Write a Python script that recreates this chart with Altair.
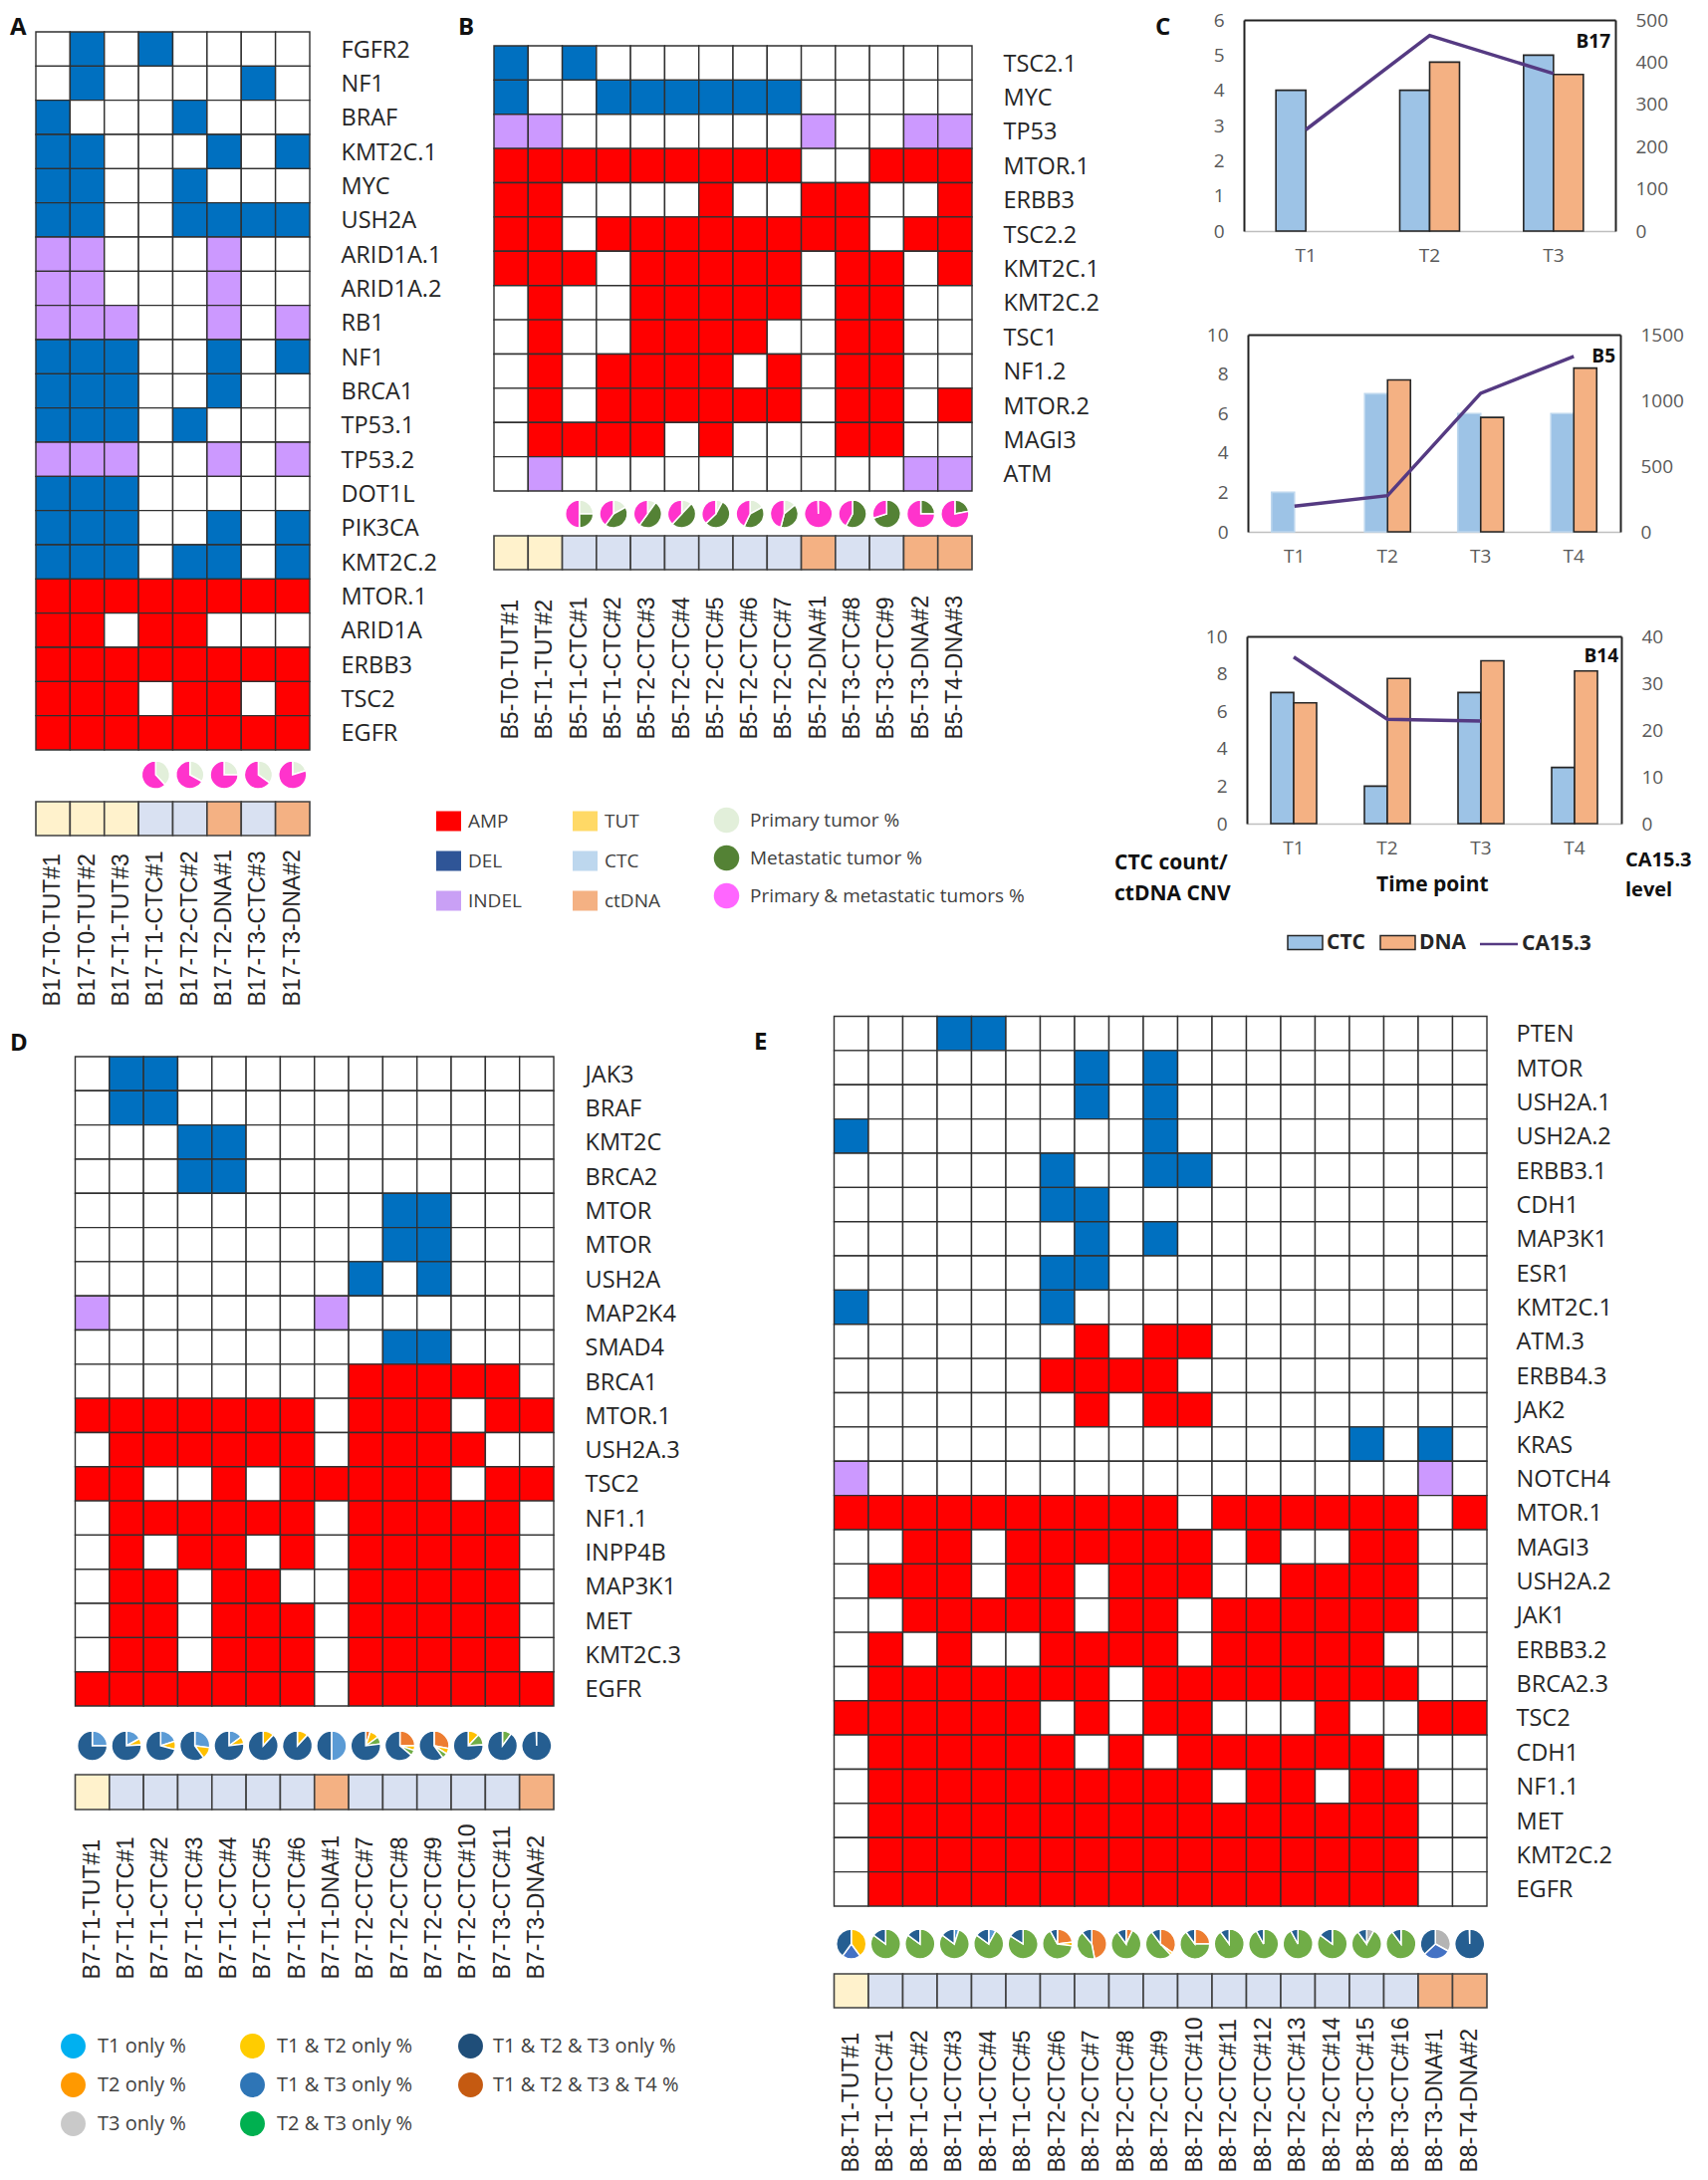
import altair as alt
import pandas as pd

W, H = 1699, 2173
M = 8  # page margin: reference pixel -> plot pixel

CELL_DOMAIN = ["none", "AMP", "DEL", "INDEL"]
CELL_RANGE = ["#FFFFFF", "#FF0000", "#0070C0", "#CC99FF"]
CODE = {".": "none", "A": "AMP", "D": "DEL", "I": "INDEL"}
TYPE_DOMAIN = ["TUT", "CTC", "DNA"]
TYPE_RANGE = ["#FFF2CC", "#D9E1F2", "#F4B183"]
SLICES = ["pale", "blue2", "orange", "gold", "grey", "blue3", "green", "dkgreen", "pink", "navy"]
SLICE_COLORS = ["#E2EFDA", "#5B9BD5", "#ED7D31", "#FFC000", "#B4B4B4", "#4472C4", "#70AD47", "#548235", "#FF33CC", "#255E91"]
BODY = "Open Sans"
NARROW = "Liberation Sans"

A_GENES = ["FGFR2", "NF1", "BRAF", "KMT2C.1", "MYC", "USH2A", "ARID1A.1", "ARID1A.2", "RB1", "NF1", "BRCA1", "TP53.1",
           "TP53.2", "DOT1L", "PIK3CA", "KMT2C.2", "MTOR.1", "ARID1A", "ERBB3", "TSC2", "EGFR"]
A_SAMPLES = ["B17-T0-TUT#1", "B17-T0-TUT#2", "B17-T1-TUT#3", "B17-T1-CTC#1", "B17-T2-CTC#2", "B17-T2-DNA#1", "B17-T3-CTC#3", "B17-T3-DNA#2"]
A_CELLS = [".D.D....", ".D....D.", "D...D...", "DD...D.D", "DD..D...", "DD..DDDD", "II...I..", "II...I..", "III..I.I",
           "DDD..D.D", "DDD..D..", "DDD.D...", "III..I.I", "DDD.....", "DDD..D.D", "DDD.DD.D", "AAAAAAAA", "AA.AA...",
           "AAAAAAAA", "AAA.AA.A", "AAAAAAAA"]
A_PIE_SAMPLES = A_SAMPLES[3:]
A_PIES = {"pale": [38, 33, 25, 35, 20], "pink": [62, 67, 75, 65, 80]}

B_GENES = ["TSC2.1", "MYC", "TP53", "MTOR.1", "ERBB3", "TSC2.2", "KMT2C.1", "KMT2C.2", "TSC1", "NF1.2", "MTOR.2", "MAGI3", "ATM"]
B_SAMPLES = ["B5-T0-TUT#1", "B5-T1-TUT#2", "B5-T1-CTC#1", "B5-T1-CTC#2", "B5-T2-CTC#3", "B5-T2-CTC#4", "B5-T2-CTC#5",
             "B5-T2-CTC#6", "B5-T2-CTC#7", "B5-T2-DNA#1", "B5-T3-CTC#8", "B5-T3-CTC#9", "B5-T3-DNA#2", "B5-T4-DNA#3"]
B_CELLS = ["D.D...........", "D..DDDDDD.....", "II.......I..II", "AAAAAAAAA..AAA", "AA....A..AA..A", "AA.AAAAAAAA.AA",
           "AAA.AAAAA.AA.A", ".A..AAAAA.AA..", ".A..AAAA..AA..", ".A.AAAA.A.AA..", ".A.AAAAAA.AA.A", ".AAAA.A...AA..",
           ".I..........II"]
B_PIE_SAMPLES = B_SAMPLES[2:]
B_PIES = {"pale": [25, 17, 10, 12, 8, 17, 14, 0, 0, 0, 0, 0],
          "dkgreen": [25, 43, 50, 50, 55, 40, 40, 0, 58, 70, 25, 22],
          "pink": [50, 40, 40, 38, 37, 43, 46, 99.5, 42, 30, 75, 78]}

D_GENES = ["JAK3", "BRAF", "KMT2C", "BRCA2", "MTOR", "MTOR", "USH2A", "MAP2K4", "SMAD4", "BRCA1", "MTOR.1", "USH2A.3", "TSC2",
           "NF1.1", "INPP4B", "MAP3K1", "MET", "KMT2C.3", "EGFR"]
D_SAMPLES = ["B7-T1-TUT#1", "B7-T1-CTC#1", "B7-T1-CTC#2", "B7-T1-CTC#3", "B7-T1-CTC#4", "B7-T1-CTC#5", "B7-T1-CTC#6", "B7-T1-DNA#1",
             "B7-T2-CTC#7", "B7-T2-CTC#8", "B7-T2-CTC#9", "B7-T2-CTC#10", "B7-T3-CTC#11", "B7-T3-DNA#2"]
D_CELLS = [".DD...........", ".DD...........", "...DD.........", "...DD.........", ".........DD...", ".........DD...",
           "........D.D...", "I......I......", ".........DD...", "........AAAAA.", "AAAAAAA.AAA.AA", ".AAAAAA.AAAA..",
           "AA..A.AAAAA.AA", ".AAAAAA.AAAAA.", ".A.AA.A.AAAAA.", ".AA.AA..AAAAA.", ".AA.AAA.AAAAA.", ".AA.AAA.AAAAA.",
           "AAAAAAA.AAAAAA"]
D_PIE_SAMPLES = D_SAMPLES
D_PIES = {"blue2": [25, 17, 20, 27, 15, 0, 0, 50, 0, 0, 0, 0, 0, 0],
          "orange": [0, 0, 0, 0, 0, 0, 0, 0, 5, 25, 28, 0, 0, 0],
          "gold": [0, 7, 9, 13, 8, 12, 12, 0, 10, 5, 6, 12, 0, 0],
          "green": [0, 0, 0, 0, 0, 0, 0, 0, 8, 6, 6, 12, 10, 0],
          "navy": [75, 76, 71, 60, 77, 88, 88, 50, 77, 64, 60, 76, 90, 99.5]}

E_GENES = ["PTEN", "MTOR", "USH2A.1", "USH2A.2", "ERBB3.1", "CDH1", "MAP3K1", "ESR1", "KMT2C.1", "ATM.3", "ERBB4.3", "JAK2", "KRAS",
           "NOTCH4", "MTOR.1", "MAGI3", "USH2A.2", "JAK1", "ERBB3.2", "BRCA2.3", "TSC2", "CDH1", "NF1.1", "MET", "KMT2C.2", "EGFR"]
E_SAMPLES = ["B8-T1-TUT#1", "B8-T1-CTC#1", "B8-T1-CTC#2", "B8-T1-CTC#3", "B8-T1-CTC#4", "B8-T1-CTC#5", "B8-T2-CTC#6", "B8-T2-CTC#7",
             "B8-T2-CTC#8", "B8-T2-CTC#9", "B8-T2-CTC#10", "B8-T2-CTC#11", "B8-T2-CTC#12", "B8-T2-CTC#13", "B8-T2-CTC#14",
             "B8-T3-CTC#15", "B8-T3-CTC#16", "B8-T3-DNA#1", "B8-T4-DNA#2"]
E_CELLS = ["...DD..............", ".......D.D.........", ".......D.D.........", "D........D.........", "......D..DD........",
           "......DD...........", ".......D.D.........", "......DD...........", "D.....D............", ".......A.AA........",
           "......AAAA.........", ".......A.AA........", "...............D.D.", "I................I.",
           "AAAAAAAAAA.AAAAAA.A", "..AA.AAAAAA.A..AA..", ".AAA.AA.AAA..AAAA..", "..AAAAA.AA.AAAAAA..",
           ".A.A..AAAA.AAAAA...", ".AAAAAAA.AAAAAAAA..", "AAAAAA.A.AA...A..AA", ".AAAAAA.A.AAAAAA...",
           ".AAAAAAAAAA.AA.AA..", ".AAAAAAAAAAAAAAAA..", ".AAAAAAAAAAAAAAAA..", ".AAAAAAAAAAAAAAAA.."]
E_PIE_SAMPLES = E_SAMPLES
E_PIES = {"blue2": [0, 0, 0, 5, 8, 0, 0, 0, 0, 0, 0, 0, 0, 0, 0, 0, 0, 0, 0],
          "orange": [0, 0, 0, 0, 0, 0, 23, 47, 7, 35, 25, 0, 0, 0, 0, 0, 0, 0, 0],
          "gold": [40, 0, 0, 0, 0, 0, 4, 0, 0, 3, 0, 0, 0, 0, 0, 0, 0, 0, 0],
          "grey": [0, 0, 0, 0, 0, 0, 0, 0, 0, 0, 0, 0, 0, 0, 0, 8, 0, 33, 0],
          "blue3": [20, 0, 0, 0, 0, 0, 0, 0, 0, 0, 0, 0, 0, 0, 0, 0, 0, 30, 0],
          "green": [0, 85, 85, 80, 77, 84, 65, 42, 83, 52, 65, 90, 92, 92, 85, 82, 90, 0, 0],
          "navy": [40, 15, 15, 15, 15, 16, 8, 11, 10, 10, 10, 10, 8, 8, 15, 10, 10, 37, 99.5]}

C1_T = ["T1", "T2", "T3"]
C1_CTC = [4, 4, 5]
C1_DNA = [None, 4.8, 4.45]
C1_CA = [240, 463, 373]
C2_T = ["T1", "T2", "T3", "T4"]
C2_CTC = [2, 7, 6, 6]
C2_DNA = [None, 7.7, 5.8, 8.3]
C2_CA = [195, 275, 1054, 1334]
C3_T = ["T1", "T2", "T3", "T4"]
C3_CTC = [7, 2, 7, 3]
C3_DNA = [6.45, 7.75, 8.7, 8.15]
C3_CA = [35.6, 22.3, 21.9, None]

layers = []


def unique_keys(names):
    seen = {}
    keys = []
    for n in names:
        seen[n] = seen.get(n, 0) + 1
        keys.append(n + " " * (seen[n] - 1))
    return keys


def heat_panel(genes, samples, cells, pie_samples, pies, x0, x1, y0, y1, pie_y, sy0, sy1, lab_x, sample_bottom, radius):
    keys = unique_keys(genes)
    x_range = [x0 - M, x1 - M]
    heat = pd.DataFrame([
        {"gene": k, "sample": s, "call": CODE[c]}
        for k, row in zip(keys, cells) for s, c in zip(samples, row)
    ])
    layers.append(alt.Chart(heat).mark_rect(stroke="#303030", strokeWidth=1.4).encode(
        x=alt.X("sample:N", scale=alt.Scale(domain=samples, range=x_range, padding=0), axis=None),
        y=alt.Y("gene:N", scale=alt.Scale(domain=keys, range=[y0 - M, y1 - M], padding=0),
                axis=alt.Axis(orient="right", offset=lab_x - M - W, domain=False, ticks=False, title=None,
                              labelPadding=0, labelOffset=1.5, labelFont=BODY, labelFontSize=23.5, labelColor="#262626",
                              labelAlign="left")),
        color=alt.Color("call:N", scale=alt.Scale(domain=CELL_DOMAIN, range=CELL_RANGE), legend=None),
    ))
    rows = []
    for i, s in enumerate(pie_samples):
        start = 0
        for name in SLICES:
            if name in pies and pies[name][i] > 0:
                v = pies[name][i]
                rows.append({"sample": s, "slice": name, "start": start, "end": start + v, "row": "pie"})
                start += v
    layers.append(alt.Chart(pd.DataFrame(rows)).mark_arc(outerRadius=radius, stroke="white", strokeWidth=1.5).encode(
        x=alt.X("sample:N", scale=alt.Scale(type="point", domain=samples, range=x_range, padding=0.5), axis=None),
        y=alt.Y("row:N", scale=alt.Scale(type="point", domain=["pie"], range=[pie_y - M - 1, pie_y - M + 1]), axis=None),
        theta=alt.Theta("start:Q", scale=alt.Scale(domain=[0, 100], range=[0, 6.2832])),
        theta2="end:Q",
        color=alt.Color("slice:N", scale=alt.Scale(domain=SLICES, range=SLICE_COLORS), legend=None),
    ))
    strip = pd.DataFrame({"sample": samples, "kind": [t for s in samples for t in TYPE_DOMAIN if t in s], "row": "type"})
    layers.append(alt.Chart(strip).mark_rect(stroke="#404040", strokeWidth=1.6).encode(
        x=alt.X("sample:N", scale=alt.Scale(domain=samples, range=x_range, padding=0),
                axis=alt.Axis(orient="bottom", offset=sample_bottom - M - H, domain=False, ticks=False, title=None,
                              labelAngle=270, labelAlign="left", labelBaseline="middle", labelPadding=0,
                              labelFont=NARROW, labelFontSize=23, labelColor="#262626", labelOverlap=False, labelLimit=300)),
        y=alt.Y("row:N", scale=alt.Scale(domain=["type"], range=[sy0 - M, sy1 - M], padding=0), axis=None),
        color=alt.Color("kind:N", scale=alt.Scale(domain=TYPE_DOMAIN, range=TYPE_RANGE), legend=None),
    ))


def combo_panel(t, ctc, dna, ca, x0, x1, y0, y1, left_max, left_step, right_max, right_step, bar_px, ctc_stroke):
    long = pd.DataFrame(
        [{"t": a, "series": "CTC", "v": v} for a, v in zip(t, ctc) if v is not None] +
        [{"t": a, "series": "DNA", "v": v} for a, v in zip(t, dna) if v is not None]
    )
    x_range = [x0 - M, x1 - M]
    band = (x1 - x0) / len(t)
    pad = 1 - 2 * bar_px / band
    x_scale = alt.Scale(domain=t, range=x_range, paddingInner=pad, paddingOuter=pad / 2)
    tick_font = dict(labelFont=BODY, labelFontSize=19, labelColor="#595959", title=None, ticks=False)
    layers.append(alt.Chart(long).mark_bar(strokeWidth=1.6).encode(
        x=alt.X("t:N", scale=x_scale,
                axis=alt.Axis(orient="bottom", offset=y1 - M - H, domainColor="#BFBFBF", domainWidth=1.5, labelAngle=0,
                              labelPadding=15, **tick_font)),
        xOffset=alt.XOffset("series:N", scale=alt.Scale(domain=["CTC", "DNA"], padding=0)),
        y=alt.Y("v:Q", scale=alt.Scale(domain=[0, left_max], range=[y1 - M, y0 - M], nice=False),
                axis=alt.Axis(orient="left", offset=-(x0 - M), grid=False, domainColor="#222222", domainWidth=2, format="d",
                              values=list(range(0, left_max + 1, left_step)), labelPadding=20, **tick_font)),
        color=alt.Color("series:N", scale=alt.Scale(domain=["CTC", "DNA"], range=["#9DC3E6", "#F4B183"]), legend=None),
        stroke=alt.Stroke("series:N", scale=alt.Scale(domain=["CTC", "DNA"], range=[ctc_stroke, "#262626"]), legend=None),
    ))
    line = pd.DataFrame([{"t": a, "ca": v} for a, v in zip(t, ca) if v is not None])
    layers.append(alt.Chart(line).mark_line(color="#553A82", strokeWidth=3.5).encode(
        x=alt.X("t:N", scale=x_scale,
                axis=alt.Axis(orient="top", offset=-(y0 - M), domainColor="#222222", domainWidth=2, labels=False,
                              ticks=False, title=None)),
        y=alt.Y("ca:Q", scale=alt.Scale(domain=[0, right_max], range=[y1 - M, y0 - M], nice=False),
                axis=alt.Axis(orient="right", offset=x1 - M - W, grid=False, domainColor="#222222", domainWidth=2, format="d",
                              values=list(range(0, right_max + 1, right_step)), labelPadding=20, **tick_font)),
    ))


def legend(labels, colors, x, y, symbol, size, rowpad, lab_off, font_size, bold=False, sym_stroke=None):
    opts = dict(orient="none", legendX=x - M, legendY=y - M, title=None, symbolType=symbol, symbolSize=size,
                symbolOpacity=1, rowPadding=rowpad, labelOffset=lab_off, labelFont=BODY, labelFontSize=font_size,
                labelColor="#262626" if bold else "#404040", labelFontWeight="bold" if bold else "normal", padding=0,
                labelLimit=500)
    if sym_stroke:
        opts.update(symbolStrokeColor=sym_stroke, symbolStrokeWidth=1.5)
    df = pd.DataFrame({"label": labels})
    layers.append(alt.Chart(df).mark_point(filled=True, opacity=0, size=1).encode(
        x=alt.value(0), y=alt.value(0),
        color=alt.Color("label:N", scale=alt.Scale(domain=labels, range=colors), legend=alt.Legend(**opts)),
    ))


def text(s, x, y, size=21, bold=True, align="left"):
    layers.append(alt.Chart(pd.DataFrame({"t": [s]})).mark_text(
        align=align, baseline="middle", font=BODY, fontSize=size, fontWeight="bold" if bold else "normal", color="#111111"
    ).encode(text="t:N", x=alt.value(x - M), y=alt.value(y - M)))


heat_panel(A_GENES, A_SAMPLES, A_CELLS, A_PIE_SAMPLES, A_PIES, 36, 311, 32, 753, 778, 805, 839, 342, 1010, 14)
heat_panel(B_GENES, B_SAMPLES, B_CELLS, B_PIE_SAMPLES, B_PIES, 496, 976, 46, 493, 516, 538, 572, 1007, 742, 14)
heat_panel(D_GENES, D_SAMPLES, D_CELLS, D_PIE_SAMPLES, D_PIES, 75.5, 556, 1061, 1713, 1753, 1782, 1817, 587, 1987, 15)
heat_panel(E_GENES, E_SAMPLES, E_CELLS, E_PIE_SAMPLES, E_PIES, 837.5, 1493, 1020.5, 1914, 1952, 1982, 2016, 1522, 2181, 15)

combo_panel(C1_T, C1_CTC, C1_DNA, C1_CA, 1249, 1622, 20, 232, 6, 1, 500, 100, 30, "#262626")
combo_panel(C2_T, C2_CTC, C2_DNA, C2_CA, 1253, 1627, 336, 534, 10, 2, 1500, 500, 23, "#BDD7EE")
combo_panel(C3_T, C3_CTC, C3_DNA, C3_CA, 1252, 1628, 639, 827, 10, 2, 40, 10, 23, "#262626")

SWATCH = "M-1,-0.8H1V0.8H-1Z"
WIDE = "M-1,-0.4H1V0.4H-1Z"
THIN = "M-1,-0.06H1V0.06H-1Z"
legend(["AMP", "DEL", "INDEL"], ["#FF0000", "#2F5597", "#C9A0F5"], 437, 811, SWATCH, 625, 16, 6, 19)
legend(["TUT", "CTC", "ctDNA"], ["#FFD966", "#BDD7EE", "#F4B183"], 574, 811, SWATCH, 625, 16, 6, 19)
legend(["Primary tumor %", "Metastatic tumor %", "Primary & metastatic tumors %"], ["#E2EFDA", "#548235", "#FF66FF"],
       716, 810, "circle", 650, 11, 10, 19)
legend(["T1 only %", "T2 only %", "T3 only %"], ["#00B0F0", "#FF9900", "#C9C9C9"], 60, 2041, "circle", 620, 13, 11, 20)
legend(["T1 & T2 only %", "T1 & T3 only %", "T2 & T3 only %"], ["#FFCC00", "#2E75B6", "#00B050"], 240, 2041, "circle", 620, 13, 11, 20)
legend(["T1 & T2 & T3 only %", "T1 & T2 & T3 & T4 %"], ["#1F4E79", "#C55A11"], 459, 2041, "circle", 620, 13, 9, 20)
legend(["CTC"], ["#9DC3E6"], 1292, 928, WIDE, 1225, 0, 3, 21, bold=True, sym_stroke="#262626")
legend(["DNA"], ["#F4B183"], 1385, 928, WIDE, 1225, 0, 3, 21, bold=True, sym_stroke="#262626")
legend(["CA15.3"], ["#553A82"], 1485, 928, THIN, 1444, 0, 3, 21, bold=True)

for s, x, y in [("A", 10, 28), ("B", 460, 28), ("C", 1160, 28), ("D", 10, 1048), ("E", 757, 1047)]:
    text(s, x, y, size=24)
text("B17", 1617, 42, 19, True, "right")
text("B5", 1622, 358, 19, True, "right")
text("B14", 1625, 659, 19, True, "right")
text("CTC count/", 1119, 867)
text("ctDNA CNV", 1119, 898)
text("Time point", 1382, 889)
text("CA15.3", 1632, 864, 20)
text("level", 1632, 894, 20)

chart = alt.layer(*layers).resolve_scale(
    x="independent", y="independent", color="independent", stroke="independent", theta="independent", xOffset="independent"
).resolve_axis(x="independent", y="independent").properties(
    width=W, height=H, padding=0, autosize=alt.AutoSizeParams(type="none"), background="white"
).configure_view(stroke=None)

chart.save("out.html", embed_options={"renderer": "svg", "actions": False})
